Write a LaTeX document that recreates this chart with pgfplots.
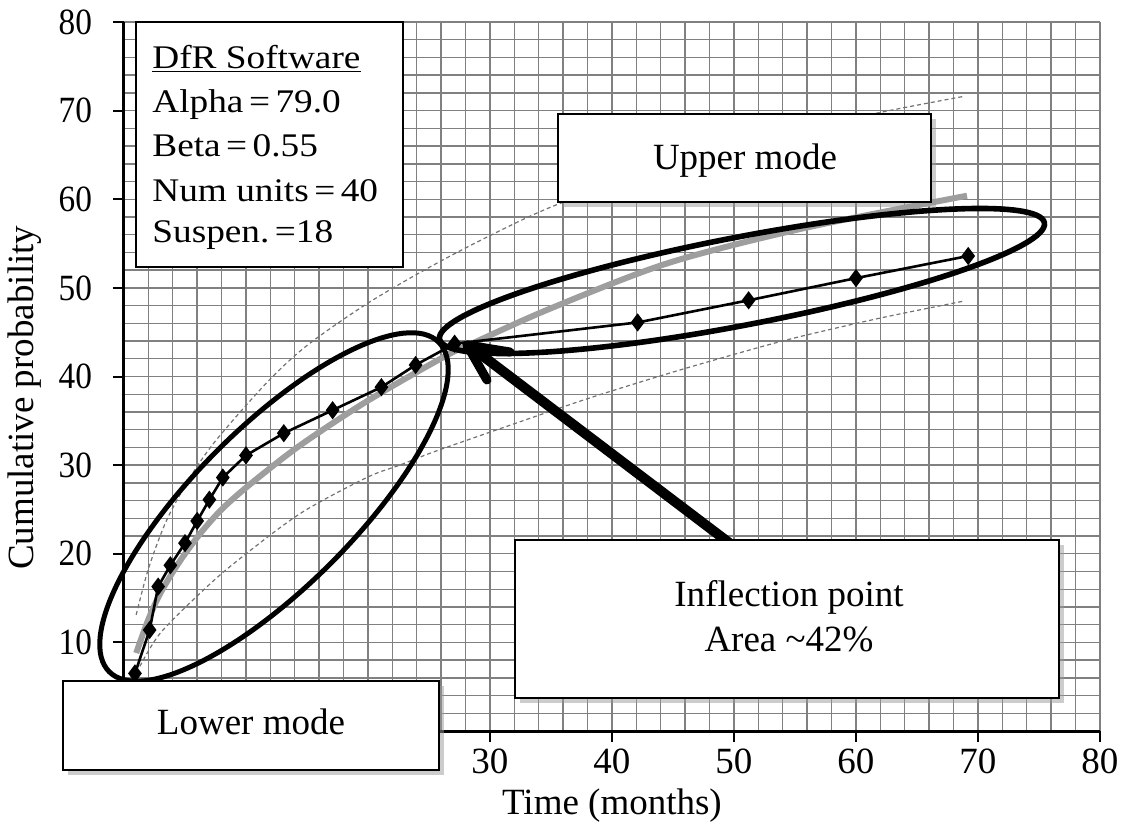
\documentclass[border=0pt]{standalone}
\usepackage{fontspec}
\setmainfont{Liberation Serif}
\newfontfamily\widefont{Liberation Serif}[FakeStretch=1.13]
\newfontfamily\narrowfont{Liberation Serif}[FakeStretch=0.9]
\usepackage{pgfplots}
\pgfplotsset{compat=1.18}
\usetikzlibrary{shadows}

\definecolor{gridgray}{gray}{0.5}
\definecolor{fitgray}{gray}{0.62}
\definecolor{boundgray}{gray}{0.45}

\newcommand{\bigtxt}{\fontsize{18.5bp}{22bp}\selectfont}
\newcommand{\boxtxt}{\widefont\fontsize{16.5bp}{19bp}\selectfont}
\newcommand{\ytxt}{\narrowfont\fontsize{18.5bp}{22bp}\selectfont}

\begin{document}
\begin{tikzpicture}
\begin{axis}[
  at={(62bp,-365.5bp)}, anchor=south west,
  scale only axis, width=488bp, height=354.5bp,
  xmin=0, xmax=80, ymin=0, ymax=80,
  axis x line*=bottom, axis y line*=left,
  axis line style={line width=1.5bp, black, -},
  xtick={0,10,...,80}, ytick={0,10,...,80},
  xticklabels={,,,30,40,50,60,70,80},
  yticklabels={,10,20,30,40,50,60,70,80},
  minor tick num=4,
  grid=both,
  major grid style={gridgray, line width=0.7bp},
  minor grid style={gridgray, line width=0.7bp},
  tick align=outside, major tick length=5.5bp, minor tick length=0pt,
  tick style={black, line width=1bp},
  xticklabel style={font=\bigtxt},
  yticklabel style={font=\ytxt, xshift=-7bp},
  xlabel={Time (months)}, ylabel={Cumulative probability},
  label style={font=\bigtxt},
  xlabel style={at={(axis description cs:0.5,-0.118)}, anchor=base},
  ylabel style={at={(axis description cs:-0.0932,0.47)}, anchor=base, rotate=0},
]
% upper bound (dotted)
\addplot[boundgray, line width=0.6bp, dash pattern=on 2bp off 1.5bp, smooth] coordinates {
(1.0,13.1) (2.0,18.3) (3.5,23.8) (5.5,28.8) (7.6,32.9) (11.7,39.3) (15.0,43.5)
(19.9,48.2) (25.0,52.3) (30.0,55.9) (35.5,59.4) (45.0,64.0) (55.0,67.6) (62.0,69.8) (68.8,71.6)};
% lower bound (dotted)
\addplot[boundgray, line width=0.6bp, dash pattern=on 2bp off 1.5bp, smooth] coordinates {
(1.3,7.3) (2.95,11.0) (6.2,15.5) (9.0,18.9) (14.4,24.5) (19.9,28.6) (22.6,30.0)
(25.4,31.5) (30.8,34.1) (38.0,37.5) (45.0,40.5) (51.3,43.0) (55.4,44.5) (62.0,46.6) (68.8,48.5)};
% fitted curve
\addplot[fitgray, line width=3bp, smooth] coordinates {
(1.0,8.8) (2.0,12.6) (3.0,15.6) (4.5,19.0) (6.2,22.2) (8.0,25.0) (10.3,27.8)
(14.4,32.2) (19.9,37.2) (26.2,42.2) (28.5,43.7) (35.0,47.7) (44.6,52.8) (55.6,56.7) (69.1,60.4)};
% data
\addplot[black, line width=1.3bp, mark=diamond*, mark size=3.5bp, mark options={solid}] coordinates {
(0.9,6.5) (2.1,11.4) (2.8,16.3) (3.8,18.7) (5.0,21.2) (6.0,23.7) (7.0,26.1) (8.1,28.6)
(10.0,31.1) (13.1,33.6) (17.1,36.2) (21.1,38.8) (23.9,41.3) (27.1,43.7)
(42.1,46.1) (51.2,48.6) (60.0,51.1) (69.2,53.6)};
\end{axis}

\begin{scope}[x=0.5bp, y=-0.5bp]
  % mode ellipses
  \draw[line width=2.5bp, shift={(274,507)}, rotate=45] (0,0) ellipse [x radius=233, y radius=80];
  \draw[line width=2.8bp, shift={(742,281)}, rotate=10.9] (0,0) ellipse [x radius=308, y radius=44];
  % arrow
  \draw[line width=5bp] (740,551) -- (471,347);
  \draw[line width=4.5bp, line cap=round] (467,345) -- (510,352);
  \draw[line width=4.5bp, line cap=round] (467,345) -- (487,380);
  % info box
  \draw[line width=1bp, fill=white] (136,22) rectangle (403,267);
  \node[anchor=base west, inner sep=0pt, font=\boxtxt] at (152,68) {\underline{DfR Software}};
  \node[anchor=base west, inner sep=0pt, font=\boxtxt] at (152,113) {Alpha\,=\,79.0};
  \node[anchor=base west, inner sep=0pt, font=\boxtxt] at (152,157) {Beta\,=\,0.55};
  \node[anchor=base west, inner sep=0pt, font=\boxtxt] at (152,202) {Num units\,=\,40};
  \node[anchor=base west, inner sep=0pt, font=\boxtxt] at (152,243) {Suspen.\,=18};
  % callout boxes
  \draw[line width=1bp, fill=white, drop shadow={shadow xshift=2.5bp, shadow yshift=-2.5bp, fill=black!40}] (558,114) rectangle (931,202);
  \node[anchor=base, font=\bigtxt] at (745,170) {Upper mode};
  \draw[line width=1bp, fill=white, drop shadow={shadow xshift=2.5bp, shadow yshift=-2.5bp, fill=black!40}] (515,540) rectangle (1059,698);
  \node[anchor=base, font=\bigtxt] at (789,607) {Inflection point};
  \node[anchor=base, font=\bigtxt] at (789,652) {Area \textasciitilde42\%};
  \draw[line width=1.2bp, fill=white, drop shadow={shadow xshift=2.5bp, shadow yshift=-2.5bp, fill=black!40}] (63,681) rectangle (439,770);
  \node[anchor=base, font=\bigtxt] at (251,735) {Lower mode};
\end{scope}
\pgfresetboundingbox
\path (0,0) rectangle (560.5bp,-412.5bp);
\end{tikzpicture}
\end{document}
